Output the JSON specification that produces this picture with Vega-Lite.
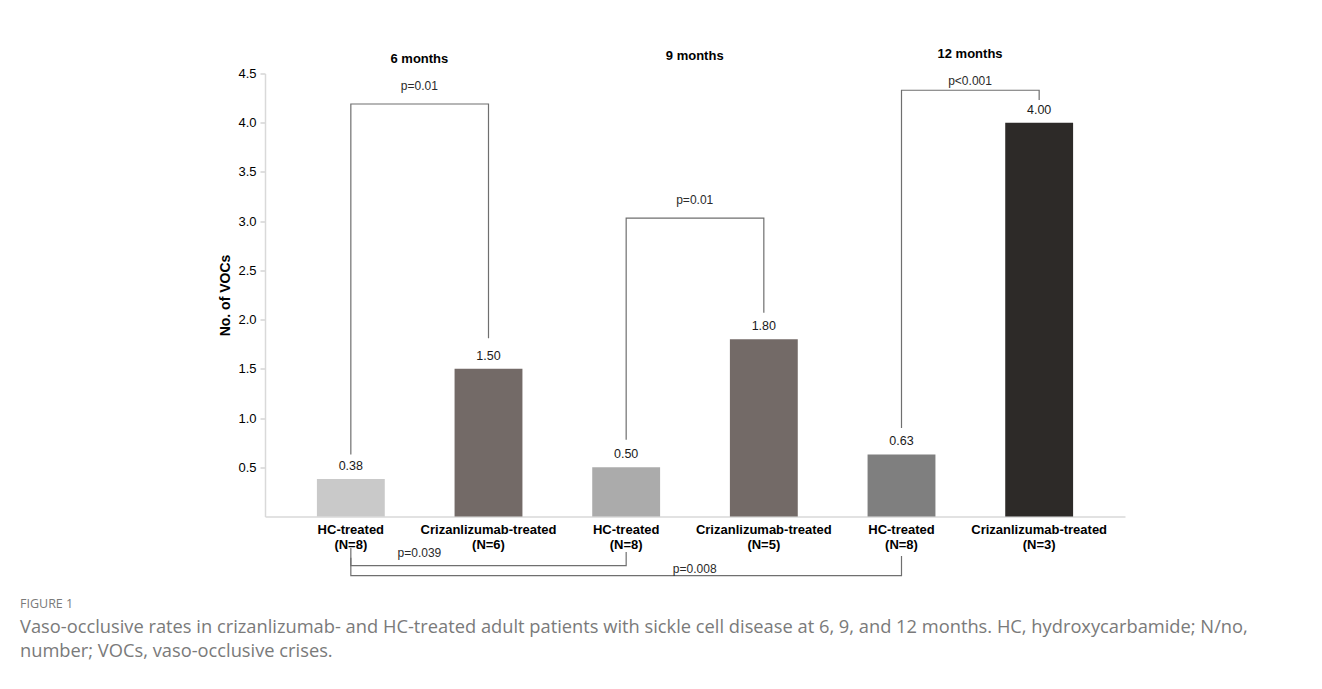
{
  "$schema": "https://vega.github.io/schema/vega-lite/v6.json",
  "width": 860,
  "height": 443,
  "autosize": {"type": "none"},
  "padding": {"left": 265, "top": 73.5, "right": 197, "bottom": 172.5},
  "background": "white",
  "config": {
    "view": {"stroke": null},
    "font": "Liberation Sans"
  },
  "title": {
    "text": "FIGURE 1",
    "subtitle": ["Vaso-occlusive rates in crizanlizumab- and HC-treated adult patients with sickle cell disease at 6, 9, and 12 months. HC, hydroxycarbamide; N/no,", "number; VOCs, vaso-occlusive crises."],
    "orient": "bottom",
    "anchor": "start",
    "frame": "group",
    "dx": -245,
    "offset": 20,
    "font": "Open Sans",
    "fontSize": 12.5,
    "fontWeight": "normal",
    "color": "#7a7a7a",
    "subtitleFont": "Open Sans",
    "subtitleFontSize": 18.3,
    "subtitleColor": "#7a7a7a",
    "subtitleLineHeight": 23.5,
    "subtitlePadding": 9
  },
  "datasets": {
    "bars": [
      {"group": "HC-treated|(N=8)|6", "vocs": 0.38},
      {"group": "Crizanlizumab-treated|(N=6)|6", "vocs": 1.50},
      {"group": "HC-treated|(N=8)|9", "vocs": 0.50},
      {"group": "Crizanlizumab-treated|(N=5)|9", "vocs": 1.80},
      {"group": "HC-treated|(N=8)|12", "vocs": 0.63},
      {"group": "Crizanlizumab-treated|(N=3)|12", "vocs": 4.00}
    ],
    "brackets": [
      {"bracket": "6m", "group": "HC-treated|(N=8)|6", "y": 0.63, "step": 1},
      {"bracket": "6m", "group": "HC-treated|(N=8)|6", "y": 4.19, "step": 2},
      {"bracket": "6m", "group": "Crizanlizumab-treated|(N=6)|6", "y": 4.19, "step": 3},
      {"bracket": "6m", "group": "Crizanlizumab-treated|(N=6)|6", "y": 1.81, "step": 4},
      {"bracket": "9m", "group": "HC-treated|(N=8)|9", "y": 0.78, "step": 1},
      {"bracket": "9m", "group": "HC-treated|(N=8)|9", "y": 3.03, "step": 2},
      {"bracket": "9m", "group": "Crizanlizumab-treated|(N=5)|9", "y": 3.03, "step": 3},
      {"bracket": "9m", "group": "Crizanlizumab-treated|(N=5)|9", "y": 2.07, "step": 4},
      {"bracket": "12m", "group": "HC-treated|(N=8)|12", "y": 0.90, "step": 1},
      {"bracket": "12m", "group": "HC-treated|(N=8)|12", "y": 4.33, "step": 2},
      {"bracket": "12m", "group": "Crizanlizumab-treated|(N=3)|12", "y": 4.33, "step": 3},
      {"bracket": "12m", "group": "Crizanlizumab-treated|(N=3)|12", "y": 4.23, "step": 4},
      {"bracket": "hc6-9", "group": "HC-treated|(N=8)|6", "y": -0.42, "step": 1},
      {"bracket": "hc6-9", "group": "HC-treated|(N=8)|6", "y": -0.50, "step": 2},
      {"bracket": "hc6-9", "group": "HC-treated|(N=8)|9", "y": -0.50, "step": 3},
      {"bracket": "hc6-9", "group": "HC-treated|(N=8)|9", "y": -0.36, "step": 4},
      {"bracket": "hc6-12", "group": "HC-treated|(N=8)|6", "y": -0.32, "step": 1},
      {"bracket": "hc6-12", "group": "HC-treated|(N=8)|6", "y": -0.60, "step": 2},
      {"bracket": "hc6-12", "group": "HC-treated|(N=8)|12", "y": -0.60, "step": 3},
      {"bracket": "hc6-12", "group": "HC-treated|(N=8)|12", "y": -0.40, "step": 4}
    ],
    "pvalues": [
      {"label": "p=0.01", "group": "HC-treated|(N=8)|6", "y": 4.37},
      {"label": "p=0.01", "group": "HC-treated|(N=8)|9", "y": 3.21},
      {"label": "p<0.001", "group": "HC-treated|(N=8)|12", "y": 4.42},
      {"label": "p=0.039", "group": "HC-treated|(N=8)|6", "y": -0.37},
      {"label": "p=0.008", "group": "HC-treated|(N=8)|9", "y": -0.53}
    ],
    "headers": [
      {"label": "6 months", "group": "HC-treated|(N=8)|6", "y": 4.65},
      {"label": "9 months", "group": "HC-treated|(N=8)|9", "y": 4.68},
      {"label": "12 months", "group": "HC-treated|(N=8)|12", "y": 4.70}
    ]
  },
  "encoding": {
    "x": {
      "field": "group",
      "type": "nominal",
      "sort": null,
      "scale": {
        "domain": ["HC-treated|(N=8)|6", "Crizanlizumab-treated|(N=6)|6", "HC-treated|(N=8)|9", "Crizanlizumab-treated|(N=5)|9", "HC-treated|(N=8)|12", "Crizanlizumab-treated|(N=3)|12"],
        "paddingInner": 0.507,
        "paddingOuter": 0.377
      },
      "axis": {
        "title": null,
        "labelAngle": 0,
        "labelExpr": "[split(datum.value,'|')[0], split(datum.value,'|')[1]]",
        "labelFontSize": 13,
        "labelFontWeight": "bold",
        "labelColor": "#000000",
        "labelLineHeight": 15,
        "labelPadding": 7,
        "ticks": false,
        "domainColor": "#d9d9d9",
        "domainWidth": 1.5
      }
    }
  },
  "layer": [
    {
      "data": {"name": "bars"},
      "mark": {"type": "bar"},
      "encoding": {
        "y": {
          "field": "vocs",
          "type": "quantitative",
          "scale": {"domain": [0, 4.5], "nice": false, "zero": true},
          "axis": {
            "title": "No. of VOCs",
            "titleFontSize": 14,
            "titleFontWeight": "bold",
            "titleColor": "#000000",
            "titlePadding": 5,
            "values": [0.5, 1, 1.5, 2, 2.5, 3, 3.5, 4, 4.5],
            "format": ".1f",
            "labelFontSize": 13,
            "labelColor": "#000000",
            "labelPadding": 4,
            "tickSize": 5,
            "tickColor": "#bfbfbf",
            "domainColor": "#d9d9d9",
            "domainWidth": 1.5,
            "grid": false
          }
        },
        "color": {
          "field": "group",
          "type": "nominal",
          "legend": null,
          "scale": {
            "domain": ["HC-treated|(N=8)|6", "Crizanlizumab-treated|(N=6)|6", "HC-treated|(N=8)|9", "Crizanlizumab-treated|(N=5)|9", "HC-treated|(N=8)|12", "Crizanlizumab-treated|(N=3)|12"],
            "range": ["#c9c9c9", "#736a67", "#ababab", "#736a67", "#7f7f7f", "#2d2a28"]
          }
        }
      }
    },
    {
      "data": {"name": "bars"},
      "mark": {"type": "text", "fontSize": 12.5, "color": "#1a1a1a", "baseline": "alphabetic", "dy": -9},
      "encoding": {
        "y": {"field": "vocs", "type": "quantitative"},
        "text": {"field": "vocs", "type": "quantitative", "format": ".2f"}
      }
    },
    {
      "data": {"name": "brackets"},
      "mark": {"type": "line", "color": "#6f6f6f", "strokeWidth": 1.2, "interpolate": "linear"},
      "encoding": {
        "y": {"field": "y", "type": "quantitative"},
        "detail": {"field": "bracket"},
        "order": {"field": "step", "type": "quantitative"}
      }
    },
    {
      "data": {"name": "pvalues"},
      "mark": {"type": "text", "fontSize": 12, "color": "#2a2a2a", "baseline": "middle"},
      "encoding": {
        "x": {"field": "group", "type": "nominal", "bandPosition": 1.51},
        "y": {"field": "y", "type": "quantitative"},
        "text": {"field": "label"}
      }
    },
    {
      "data": {"name": "headers"},
      "mark": {"type": "text", "fontSize": 13, "fontWeight": "bold", "color": "#000000", "baseline": "middle"},
      "encoding": {
        "x": {"field": "group", "type": "nominal", "bandPosition": 1.51},
        "y": {"field": "y", "type": "quantitative"},
        "text": {"field": "label"}
      }
    }
  ]
}
